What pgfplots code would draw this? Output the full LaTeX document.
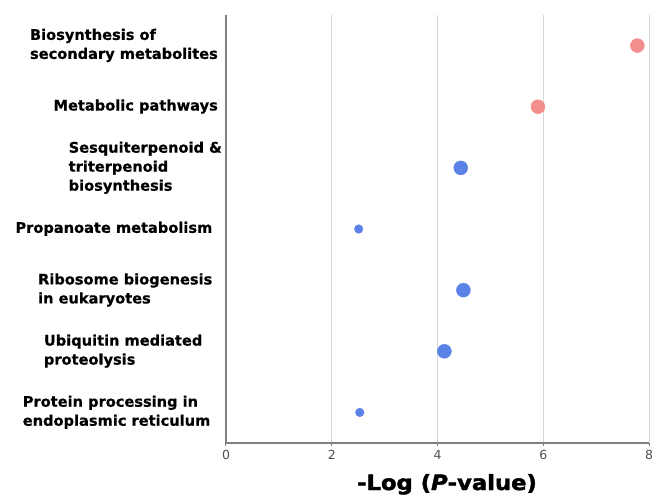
\documentclass[border=0pt]{standalone}
\usepackage{fontspec}
\setmainfont{DejaVu Sans}
\newfontfamily\xlabfont[FakeBold=2,FakeStretch=1.08]{DejaVu Sans Bold}
\newfontfamily\labfont[FakeBold=0.6]{DejaVu Sans Bold}
\usepackage{pgfplots}
\pgfplotsset{compat=1.18}
\definecolor{pinkc}{RGB}{242,142,140}
\definecolor{bluec}{RGB}{91,130,230}
\definecolor{axc}{RGB}{128,128,128}
\definecolor{gridc}{RGB}{215,215,215}
\definecolor{tickc}{RGB}{80,80,80}
\newcommand{\lb}[2]{\begin{tabular}{@{}l@{}}#1\end{tabular}\hspace*{#2}}
\begin{document}
\begin{tikzpicture}
\useasboundingbox (0,0) rectangle (654pt,496pt);
\begin{axis}[
  at={(226pt,53pt)}, anchor=south west,
  scale only axis, width=423pt, height=428pt,
  xmin=0, xmax=8, ymin=-0.5, ymax=6.5, y dir=reverse,
  clip=false,
  axis lines*=left,
  axis line style={draw=axc, line width=1.3pt},
  xtick={0,2,4,6,8},
  xmajorgrids, grid style={draw=gridc, line width=0.9pt},
  tick align=outside,
  major tick length=3pt,
  xtick style={draw=axc, line width=1pt},
  ytick={0,...,6},
  ytick style={draw=none},
  minor ytick={-0.5,0.5,...,6.5},
  minor tick length=4.5pt,
  minor tick style={draw=axc, line width=1pt},
  /pgf/number format/assume math mode=true,
  xticklabel style={font=\fontsize{12.5}{14}\selectfont, text=tickc, yshift=-1pt},
  yticklabel style={font=\fontsize{14.6}{19}\labfont, anchor=east, inner xsep=0pt, xshift=0pt},
  yticklabels={
    {\lb{Biosynthesis of\\secondary metabolites}{5pt}},
    {\lb{Metabolic pathways}{5pt}},
    {\lb{Sesquiterpenoid \&\\triterpenoid\\biosynthesis}{1pt}},
    {\lb{Propanoate metabolism}{10.5pt}},
    {\lb{Ribosome biogenesis\\in eukaryotes}{10.5pt}},
    {\lb{Ubiquitin mediated\\proteolysis}{20.5pt}},
    {\lb{Protein processing in\\endoplasmic reticulum}{12.5pt}}
  },
  xlabel={\xlabfont\fontsize{21}{22}\selectfont -Log (\textit{P}-value)},
  xlabel style={at={(axis description cs:0.5225,0)}, anchor=base, yshift=-47pt, inner sep=0pt},
]
\addplot[only marks, mark=*, mark size=7pt, color=pinkc] coordinates {(7.78,0) (5.90,1)};
\addplot[only marks, mark=*, mark size=7pt, color=bluec] coordinates {(4.44,2) (4.49,4) (4.13,5)};
\addplot[only marks, mark=*, mark size=4.3pt, color=bluec] coordinates {(2.51,3) (2.53,6)};
\end{axis}
\end{tikzpicture}
\end{document}
